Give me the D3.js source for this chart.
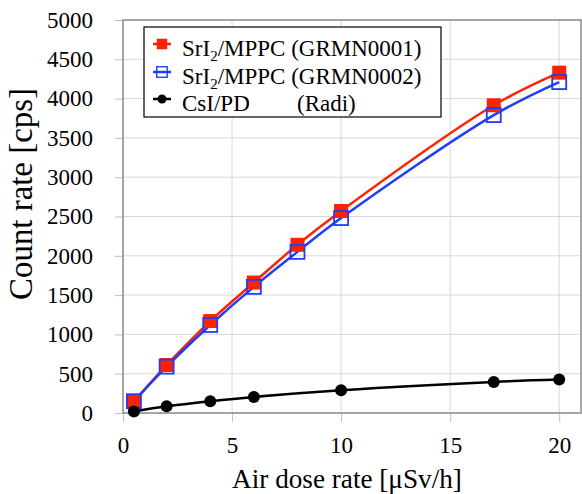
<!DOCTYPE html>
<html>
<head>
<meta charset="utf-8">
<script src="https://cdn.jsdelivr.net/npm/d3@7"></script>
<style>
    body { margin: 0; background: #fff; }
    svg { display: block; }
    text { font-family: "Liberation Serif", "Times New Roman", serif; }
    .grid line { stroke: #d9d9d9; stroke-width: 1; }
    .axis path { display: none; }
    .axis line { stroke: #bfbfbf; }
</style>
</head>
<body>
<svg id="chart" width="582" height="494"></svg>
<script>
// data
var doseRates = [0.5, 2, 4, 6, 8, 10, 17, 20];
var grmn0001 = [145, 610, 1170, 1660, 2140, 2570, 3915, 4330];
var grmn0002 = [150, 590, 1120, 1605, 2050, 2480, 3790, 4210];
var csiDose = [0.5, 2, 4, 6, 10, 17, 20];
var csiRadi = [20, 85, 150, 205, 290, 395, 425];
var xTicks = [0, 5, 10, 15, 20];
var yTicks = [0, 500, 1000, 1500, 2000, 2500, 3000, 3500, 4000, 4500, 5000];

(function () {
    var plotLeft = 123, plotRight = 581, plotTop = 20, plotBottom = 413;
    var serif = "'Liberation Serif', 'Times New Roman', serif";

    var svg = d3.select("#chart");

    var x = d3.scaleLinear().domain([0, 21]).range([plotLeft, plotRight]);
    var y = d3.scaleLinear().domain([0, 5000]).range([plotBottom, plotTop]);

    // grid
    var grid = svg.append("g").attr("class", "grid");
    grid.selectAll("line.v")
        .data(xTicks)
        .enter().append("line")
        .attr("class", "v")
        .attr("x1", function (d) { return x(d); })
        .attr("x2", function (d) { return x(d); })
        .attr("y1", plotTop)
        .attr("y2", plotBottom);
    grid.selectAll("line.h")
        .data(yTicks)
        .enter().append("line")
        .attr("class", "h")
        .attr("x1", plotLeft)
        .attr("x2", plotRight)
        .attr("y1", function (d) { return y(d); })
        .attr("y2", function (d) { return y(d); });

    // axes
    var xAxis = svg.append("g")
        .attr("class", "axis")
        .attr("transform", "translate(0," + plotBottom + ")")
        .call(d3.axisBottom(x).tickValues(xTicks).tickFormat(d3.format("d")).tickSize(9).tickPadding(15));
    var yAxis = svg.append("g")
        .attr("class", "axis")
        .attr("transform", "translate(" + plotLeft + ",0)")
        .call(d3.axisLeft(y).tickValues(yTicks).tickFormat(d3.format("d")).tickSize(8).tickPadding(22));
    [xAxis, yAxis].forEach(function (a) {
        a.attr("font-family", serif).attr("font-size", 23);
        a.selectAll("text").style("font-family", serif).attr("fill", "#000");
    });

    // plot frame
    svg.append("rect")
        .attr("x", plotLeft)
        .attr("y", plotTop)
        .attr("width", plotRight - plotLeft)
        .attr("height", plotBottom - plotTop)
        .attr("fill", "none")
        .attr("stroke", "#8c8c8c")
        .attr("stroke-width", 1.5);

    // axis titles, sized to the lengths measured on the picture
    function fitText(sel, width) {
        var len = sel.node().getComputedTextLength();
        var fs = +sel.attr("font-size");
        sel.attr("font-size", (fs * width / len).toFixed(1));
    }
    var xTitle = svg.append("text")
        .attr("x", 347)
        .attr("y", 488)
        .attr("text-anchor", "middle")
        .attr("font-size", 26)
        .text("Air dose rate [\u03bcSv/h]");
    fitText(xTitle, 230);
    var yTitle = svg.append("text")
        .attr("transform", "translate(32,194) rotate(-90)")
        .attr("text-anchor", "middle")
        .attr("font-size", 26)
        .text("Count rate [cps]");
    fitText(yTitle, 212);

    var line = d3.line()
        .x(function (d) { return x(d[0]); })
        .y(function (d) { return y(d[1]); })
        .curve(d3.curveCatmullRom.alpha(0.5));

    var series = [
        { pts: d3.zip(doseRates, grmn0001), color: "#ff2200", marker: "filled" },
        { pts: d3.zip(doseRates, grmn0002), color: "#1f3cff", marker: "open" },
        { pts: d3.zip(csiDose, csiRadi), color: "#000", marker: "dot" }
    ];

    var gplot = svg.append("g");

    series.forEach(function (s) {
        gplot.append("path")
            .datum(s.pts)
            .attr("fill", "none")
            .attr("stroke", s.color)
            .attr("stroke-width", 2.5)
            .attr("d", line);
    });

    function drawMarker(g, type, color) {
        if (type === "filled") {
            g.append("rect").attr("x", -7).attr("y", -7).attr("width", 14).attr("height", 14)
                .attr("fill", color);
        } else if (type === "open") {
            g.append("rect").attr("x", -7).attr("y", -7).attr("width", 14).attr("height", 14)
                .attr("fill", "none").attr("stroke", color).attr("stroke-width", 1.8);
        } else {
            g.append("circle").attr("r", 6).attr("fill", color);
        }
    }

    series.forEach(function (s) {
        gplot.selectAll(null)
            .data(s.pts)
            .enter().append("g")
            .attr("transform", function (d) { return "translate(" + x(d[0]) + "," + y(d[1]) + ")"; })
            .each(function () { drawMarker(d3.select(this), s.marker, s.color); });
    });

    // legend
    var legend = svg.append("g");
    legend.append("rect")
        .attr("x", 144)
        .attr("y", 27)
        .attr("width", 297)
        .attr("height", 90)
        .attr("fill", "#fff")
        .attr("stroke", "#000")
        .attr("stroke-width", 1.2);

    var names = [
        ["SrI", "2", "/MPPC (GRMN0001)"],
        ["SrI", "2", "/MPPC (GRMN0002)"],
        ["CsI/PD", "", ""]
    ];
    var rows = [56, 84, 111];

    series.forEach(function (s, i) {
        var g = legend.append("g").attr("transform", "translate(0," + rows[i] + ")");
        g.append("line")
            .attr("x1", 153).attr("x2", 171)
            .attr("y1", -12).attr("y2", -12)
            .attr("stroke", s.color).attr("stroke-width", 2.5);
        var m = g.append("g").attr("transform", "translate(162,-12) scale(0.75)");
        drawMarker(m, s.marker, s.color);
        var t = g.append("text").attr("x", 182).attr("font-size", 23);
        t.append("tspan").text(names[i][0]);
        if (names[i][1]) {
            t.append("tspan").attr("font-size", 15).attr("dy", 5).text(names[i][1]);
            t.append("tspan").attr("dy", -5).text(names[i][2]);
        }
    });
    legend.append("text")
        .attr("x", 297)
        .attr("y", rows[2])
        .attr("font-size", 23)
        .text("(Radi)");
})();
</script>
</body>
</html>
